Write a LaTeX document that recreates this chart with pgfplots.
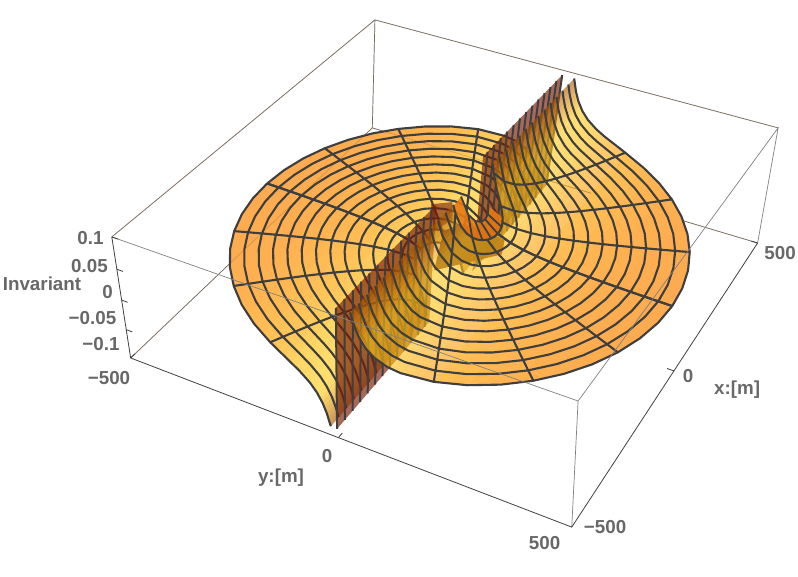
\documentclass[border=0pt]{standalone}
\usepackage{pgfplots}
\usepackage{pgfplotstable}
\usepackage{fontspec}
\setmainfont{Liberation Sans}
\pgfplotsset{compat=1.18}
\definecolor{lbl}{RGB}{104,104,104}
\definecolor{mesh}{RGB}{62,62,62}
\definecolor{wallc}{RGB}{119,28,5}
\definecolor{leafc}{RGB}{232,122,18}
\definecolor{patchc}{RGB}{110,55,40}
\newcommand\PW[3]{(0.8995+0.0888*(#1)-0.0493*(#2)-0.0375*(#3))}
\newcommand\PX[3]{((412.6+141.5*(#1)+166.5*(#2)-15.9*(#3)-3.25*(#2)*(#3))/\PW{#1}{#2}{#3})}
\newcommand\PY[3]{(577-(217.2-89.7*(#1)+48.8*(#2)-62.1*(#3)+2.2*(#1)*(#3)-1.1*(#2)*(#3))/\PW{#1}{#2}{#3})}
\pgfplotsset{
 table/cart/.style n args={2}{
  x expr={\PX{#1*\thisrow{x}/500}{#2*\thisrow{y}/500}{#2*\thisrow{z}/0.1}},
  y expr={\PY{#1*\thisrow{x}/500}{#2*\thisrow{y}/500}{#2*\thisrow{z}/0.1}},
  z expr=0},
 table/polar/.style n args={2}{
  x expr={\PX{#1*\thisrow{r}*cos(\thisrow{t})/500}{#2*\thisrow{r}*sin(\thisrow{t})/500}{#2*\thisrow{z}/0.1}},
  y expr={\PY{#1*\thisrow{r}*cos(\thisrow{t})/500}{#2*\thisrow{r}*sin(\thisrow{t})/500}{#2*\thisrow{z}/0.1}},
  z expr=0},
 opq/.style={surf,shader=flat,mesh/cols=2,colormap name=real,point meta=\thisrow{z},point meta min=0,point meta max=0.1},
 trn/.style={surf,shader=flat,mesh/cols=2,colormap name=base,point meta=\thisrow{z},point meta min=0,point meta max=0.1,fill opacity=0.6,draw opacity=0},
 meshl/.style={color=mesh,line width=2.1pt,line join=round,unbounded coords=jump},
 colormap={real}{rgb255(0)=(253,170,80) rgb255(63)=(253,170,80) rgb255(100)=(254,178,80) rgb255(140)=(255,190,85) rgb255(270)=(255,215,100) rgb255(400)=(255,222,110) rgb255(550)=(255,222,110) rgb255(700)=(240,195,100) rgb255(1000)=(200,150,85)},
 colormap={base}{rgb255(0)=(253,113,0) rgb255(63)=(253,113,0) rgb255(100)=(254,127,0) rgb255(140)=(255,147,0) rgb255(270)=(255,188,15) rgb255(400)=(255,200,25) rgb255(550)=(255,200,25) rgb255(700)=(230,155,10) rgb255(1000)=(163,80,0)},
}
% surface strips in one quadrant: x y z (the others follow by symmetry)
\pgfplotstableread{
x y z
84.9 30 0.1
479.1 30 0.1
84.1 32 0.0938
478.9 32 0.0938
83.3 34 0.0882
478.8 34 0.0882
82.0 37 0.0811
478.6 37 0.0811
80.6 40 0.075
478.3 40 0.075
79.1 43 0.0698
478.1 43 0.0698
76.8 47 0.0638
477.7 47 0.0638
74.2 51 0.0588
477.3 51 0.0588
70.5 56 0.0536
476.7 56 0.0536
65.2 62 0.0484
476.0 62 0.0484
59.0 68 0.0441
475.2 68 0.0441
49.7 75 0.04
474.1 75 0.04
34.8 83 0.0361
472.8 83 0.0361
0 90 0.0333
471.5 90 0.0333
0 100 0.03
469.5 100 0.03
0 110 0.0273
467.2 110 0.0273
0 124 0.0242
463.7 124 0.0242
0 140 0.0214
459.1 140 0.0214
0 160 0.0188
452.5 160 0.0188
0 184 0.0163
443.3 184 0.0163
}\stripsnear
\pgfplotstableread{
x y z
0 184 0.0163
443.3 184 0.0163
0 210 0.0143
431.6 210 0.0143
0 240 0.0125
415.7 240 0.0125
0 265 0.0113
400.2 265 0.0113
0 292 0.0103
381.0 292 0.0103
0 315 0.0095
362.2 315 0.0095
0 339 0.0088
339.8 339 0.0088
0 360 0.0083
317.5 360 0.0083
0 381 0.0079
292.0 381 0.0079
0 400 0.0075
265.3 400 0.0075
0 416 0.0072
239.5 416 0.0072
0 430 0.007
213.3 430 0.007
0 443 0.0068
184.8 443 0.0068
0 455 0.0066
152.9 455 0.0066
0 464 0.0065
122.9 464 0.0065
0 471 0.0064
92.5 471 0.0064
0 476 0.0063
61.8 476 0.0063
0 480 0.0063
0.1 480 0.0063
}\stripsfar
% mesh lines in one quadrant: radius, angle, value
\pgfplotstableread{
r t z
480 90 .00625
480 82.5 .0063
480 75 .00647
480 67.5 .00676
480 60 .00722
480 52.5 .00788
480 45 .00884
480 37.5 .01027
480 30 .0125
480 22.5 .01633
480 15 .02415
480 12 .03006
480 9 .03996
480 7 .0513
480 5.5 .0652
480 4.5 .0796
480 3.58 .1
nan 0 nan
450 90 .00667
450 82.5 .00672
450 75 .0069
450 67.5 .00722
450 60 .0077
450 52.5 .0084
450 45 .00943
450 37.5 .01095
450 30 .01333
450 22.5 .01742
450 15 .02576
450 12 .03207
450 9 .04262
450 7 .05471
450 5.5 .06956
450 4.5 .08496
450 3.82 .1
nan 0 nan
420 90 .00714
420 82.5 .0072
420 75 .0074
420 67.5 .00773
420 60 .00825
420 52.5 .009
420 45 .0101
420 37.5 .01173
420 30 .01429
420 22.5 .01866
420 15 .0276
420 12 .03436
420 9 .04567
420 7 .05862
420 5.5 .07452
420 4.5 .09102
420 4.1 .1
nan 0 nan
390 90 .00769
390 82.5 .00776
390 75 .00796
390 67.5 .00833
390 60 .00888
390 52.5 .00969
390 45 .01088
390 37.5 .01264
390 30 .01538
390 22.5 .0201
390 15 .02972
390 12 .037
390 9 .04918
390 7 .06313
390 5.5 .08026
390 4.41 .1
nan 0 nan
360 90 .00833
360 82.5 .00841
360 75 .00863
360 67.5 .00902
360 60 .00962
360 52.5 .0105
360 45 .01179
360 37.5 .01369
360 30 .01667
360 22.5 .02178
360 15 .03219
360 12 .04008
360 9 .05328
360 7 .06839
360 5.5 .08694
360 4.78 .1
nan 0 nan
330 90 .00909
330 82.5 .00917
330 75 .00941
330 67.5 .00984
330 60 .0105
330 52.5 .01146
330 45 .01286
330 37.5 .01493
330 30 .01818
330 22.5 .02375
330 15 .03512
330 12 .04373
330 9 .05812
330 7 .07461
330 5.5 .09485
330 5.22 .1
nan 0 nan
300 90 .01
300 82.5 .01009
300 75 .01035
300 67.5 .01082
300 60 .01155
300 52.5 .0126
300 45 .01414
300 37.5 .01643
300 30 .02
300 22.5 .02613
300 15 .03863
300 12 .0481
300 9 .06393
300 7 .08207
300 5.74 .1
nan 0 nan
270 90 .01111
270 82.5 .01121
270 75 .0115
270 67.5 .01203
270 60 .01283
270 52.5 .014
270 45 .01571
270 37.5 .01825
270 30 .02222
270 22.5 .02903
270 15 .04293
270 12 .05344
270 9 .07104
270 7 .09119
270 6.38 .1
nan 0 nan
240 90 .0125
240 82.5 .01261
240 75 .01294
240 67.5 .01353
240 60 .01443
240 52.5 .01575
240 45 .01768
240 37.5 .02053
240 30 .025
240 22.5 .03266
240 15 .04829
240 12 .06013
240 9 .07992
240 7.18 .1
nan 0 nan
210 90 .01429
210 82.5 .01441
210 75 .01479
210 67.5 .01546
210 60 .0165
210 52.5 .018
210 45 .0202
210 37.5 .02347
210 30 .02857
210 22.5 .03733
210 15 .05519
210 12 .06871
210 9 .09133
210 8.21 .1
nan 0 nan
180 90 .01667
180 82.5 .01681
180 75 .01726
180 67.5 .01804
180 60 .01924
180 52.5 .02101
180 45 .02357
180 37.5 .02738
180 30 .03333
180 22.5 .04355
180 15 .06439
180 12 .08017
180 9.59 .1
nan 0 nan
150 90 .02
150 82.5 .02017
150 75 .02071
150 67.5 .02165
150 60 .02309
150 52.5 .02521
150 45 .02829
150 37.5 .03285
150 30 .04
150 22.5 .05226
150 15 .07727
150 12 .0962
150 11.54 .1
nan 0 nan
120 90 .025
120 82.5 .02522
120 75 .02588
120 67.5 .02706
120 60 .02887
120 52.5 .03151
120 45 .03536
120 37.5 .04107
120 30 .05
120 22.5 .06533
120 15 .09658
120 14.48 .1
nan 0 nan
90 90 .03333
90 82.5 .03362
90 75 .03451
90 67.5 .03608
90 60 .03849
90 52.5 .04201
90 45 .04714
90 37.5 .05476
90 30 .06667
90 22.5 .0871
90 19.47 .1
nan 0 nan
90 22.5 .0871
120 22.5 .06533
150 22.5 .05226
180 22.5 .04355
210 22.5 .03733
240 22.5 .03266
270 22.5 .02903
300 22.5 .02613
330 22.5 .02375
360 22.5 .02178
390 22.5 .0201
420 22.5 .01866
450 22.5 .01742
480 22.5 .01633
nan 0 nan
90 45 .04714
120 45 .03536
150 45 .02829
180 45 .02357
210 45 .0202
240 45 .01768
270 45 .01571
300 45 .01414
330 45 .01286
360 45 .01179
390 45 .01088
420 45 .0101
450 45 .00943
480 45 .00884
nan 0 nan
90 67.5 .03608
120 67.5 .02706
150 67.5 .02165
180 67.5 .01804
210 67.5 .01546
240 67.5 .01353
270 67.5 .01203
300 67.5 .01082
330 67.5 .00984
360 67.5 .00902
390 67.5 .00833
420 67.5 .00773
450 67.5 .00722
480 67.5 .00676
nan 0 nan
90 90 .03333
120 90 .025
150 90 .02
180 90 .01667
210 90 .01429
240 90 .0125
270 90 .01111
300 90 .01
330 90 .00909
360 90 .00833
390 90 .00769
420 90 .00714
450 90 .00667
480 90 .00625
}\meshq
% walls near y = 0
\pgfplotstableread{
x y z
100 -15 -0.1
480 -15 -0.1
480 0 0.1
100 0 0.1
}\wall
\pgfplotstableread{
x y z
91 -117 0
121 -80 0
62 -48 0
8 -64 0
}\cap
\pgfplotstableread{
x y z
18 -46 0
61 -24 0
51 82 0
3 100 0
-113 3 0
}\centrepatch
\pgfplotstableread{
x y z
120 -15 -0.1
120 0 0.1
nan nan nan
150 -15 -0.1
150 0 0.1
nan nan nan
180 -15 -0.1
180 0 0.1
nan nan nan
210 -15 -0.1
210 0 0.1
nan nan nan
240 -15 -0.1
240 0 0.1
nan nan nan
270 -15 -0.1
270 0 0.1
nan nan nan
300 -15 -0.1
300 0 0.1
nan nan nan
330 -15 -0.1
330 0 0.1
nan nan nan
360 -15 -0.1
360 0 0.1
nan nan nan
390 -15 -0.1
390 0 0.1
nan nan nan
420 -15 -0.1
420 0 0.1
nan nan nan
450 -15 -0.1
450 0 0.1
nan nan nan
480 -15 -0.1
480 0 0.1
}\stripes
% inner piece
\pgfplotstableread{
r t z
90 60 .03849
90 75 .03451
90 90 .03333
90 105 .03451
90 120 .03849
90 135 .04714
90 150 .06667
90 160 .0975
60 150 .1
60 135 .0707
60 120 .05774
60 105 .05177
60 90 .05
60 75 .05177
60 60 .05774
}\leaf
\pgfplotstableread{
r t z
60 150 .1
60 135 .0707
60 120 .05774
60 105 .05177
60 90 .05
60 75 .05177
60 60 .05774
nan 0 nan
60 75 .05177
90 75 .03451
nan 0 nan
60 90 .05
90 90 .03333
nan 0 nan
60 105 .05177
90 105 .03451
nan 0 nan
60 120 .05774
90 120 .03849
nan 0 nan
60 135 .0707
90 135 .04714
}\leafmesh
% box
\pgfplotstableread{
x y z
-500 -500 -0.1
500 -500 -0.1
500 500 -0.1
nan nan nan
500 -500 -0.1
500 -500 0.1
nan nan nan
-500 -500 0.1
500 -500 0.1
500 500 0.1
}\boxback
\pgfplotstableread{
x y z
-500 -500 0.1
-500 500 0.1
500 500 0.1
500 500 -0.1
nan nan nan
-500 500 0.1
-500 500 -0.1
}\boxfront
\pgfplotstableread{
x y z
-500 -500 0.1
-500 -500 -0.1
-500 500 -0.1
500 500 -0.1
nan nan nan
-500 -485 0.1
-500 -500 0.1
nan nan nan
-500 -485 0.05
-500 -500 0.05
nan nan nan
-500 -485 0
-500 -500 0
nan nan nan
-500 -485 -0.05
-500 -500 -0.05
nan nan nan
-500 -485 -0.1
-500 -500 -0.1
nan nan nan
-485 -500 -0.1
-500 -500 -0.1
nan nan nan
-485 0 -0.1
-500 0 -0.1
nan nan nan
-485 500 -0.1
-500 500 -0.1
nan nan nan
-500 485 -0.1
-500 500 -0.1
nan nan nan
0 485 -0.1
0 500 -0.1
nan nan nan
500 485 -0.1
500 500 -0.1
}\axislines
\begin{document}
\begin{tikzpicture}
\useasboundingbox (0,0) rectangle (798pt,577pt);
\begin{axis}[at={(0pt,0pt)},anchor=south west,scale only axis,width=798pt,height=577pt,
 xmin=0,xmax=798,ymin=0,ymax=577,zmin=-1,zmax=1,view={0}{90},hide axis,clip=false,no markers,
 nodes={font=\fontsize{18.8}{20}\selectfont\bfseries,text=lbl,inner sep=0pt}]
% back box edges
\addplot3[color=black!55,line width=0.7pt,unbounded coords=jump,forget plot] table[cart={1}{1}]{\boxback};
% far half, y<0
\addplot3[opq,forget plot] table[cart={1}{-1}]{\stripsfar};
\addplot3[opq,forget plot] table[cart={-1}{-1}]{\stripsfar};
\addplot3[opq,forget plot] table[cart={1}{-1}]{\stripsnear};
\addplot3[opq,forget plot] table[cart={-1}{-1}]{\stripsnear};
\addplot3[color=brown!70!black,opacity=0.3,line width=0.7pt,unbounded coords=jump,forget plot] table[cart={1}{1}]{\boxback};
\addplot3[meshl,forget plot] table[polar={1}{-1}]{\meshq};
\addplot3[meshl,forget plot] table[polar={-1}{-1}]{\meshq};
% walls
\addplot3[fill=patchc,draw=none,forget plot] table[cart={1}{1}]{\centrepatch};
\addplot3[fill=wallc,fill opacity=0.66,draw=none,forget plot] table[cart={1}{1}]{\wall};
\addplot3[fill=wallc,fill opacity=0.66,draw=none,forget plot] table[cart={-1}{1}]{\wall};
\addplot3[fill=wallc,fill opacity=0.6,draw=none,forget plot] table[cart={1}{1}]{\cap};
\addplot3[color=mesh,line width=2pt,unbounded coords=jump,forget plot] table[cart={1}{1}]{\stripes};
\addplot3[color=mesh,line width=2pt,unbounded coords=jump,forget plot] table[cart={-1}{1}]{\stripes};
% near half, y>0
\addplot3[fill=leafc,fill opacity=0.9,draw=none,forget plot] table[polar={1}{1}]{\leaf};
\addplot3[meshl,line width=1.8pt,forget plot] table[polar={1}{1}]{\leafmesh};
\addplot3[trn,forget plot] table[cart={1}{1}]{\stripsnear};
\addplot3[trn,forget plot] table[cart={-1}{1}]{\stripsnear};
\addplot3[opq,forget plot] table[cart={1}{1}]{\stripsfar};
\addplot3[opq,forget plot] table[cart={-1}{1}]{\stripsfar};
\addplot3[meshl,forget plot] table[polar={1}{1}]{\meshq};
\addplot3[meshl,forget plot] table[polar={-1}{1}]{\meshq};
% front box edges, axes, ticks
\addplot3[color=black!50,line width=0.7pt,unbounded coords=jump,forget plot] table[cart={1}{1}]{\boxfront};
\addplot3[color=black!75,line width=0.8pt,unbounded coords=jump,forget plot] table[cart={1}{1}]{\axislines};
% labels
\node at (axis cs:90.5,339,0) {0.1};
\node at (axis cs:89.5,311,0) {0.05};
\node at (axis cs:107.5,285,0) {0};
\node at (axis cs:92.5,259,0) {−0.05};
\node at (axis cs:101,233,0) {−0.1};
\node at (axis cs:42,293,0) {Invariant};
\node at (axis cs:109,199,0) {−500};
\node at (axis cs:327,121,0) {0};
\node at (axis cs:281,99,0) {y:[m]};
\node at (axis cs:544.5,34,0) {500};
\node at (axis cs:605,50,0) {−500};
\node at (axis cs:688,201,0) {0};
\node at (axis cs:737,187,0) {x:[m]};
\node at (axis cs:780,324,0) {500};
\end{axis}
\end{tikzpicture}
\end{document}
